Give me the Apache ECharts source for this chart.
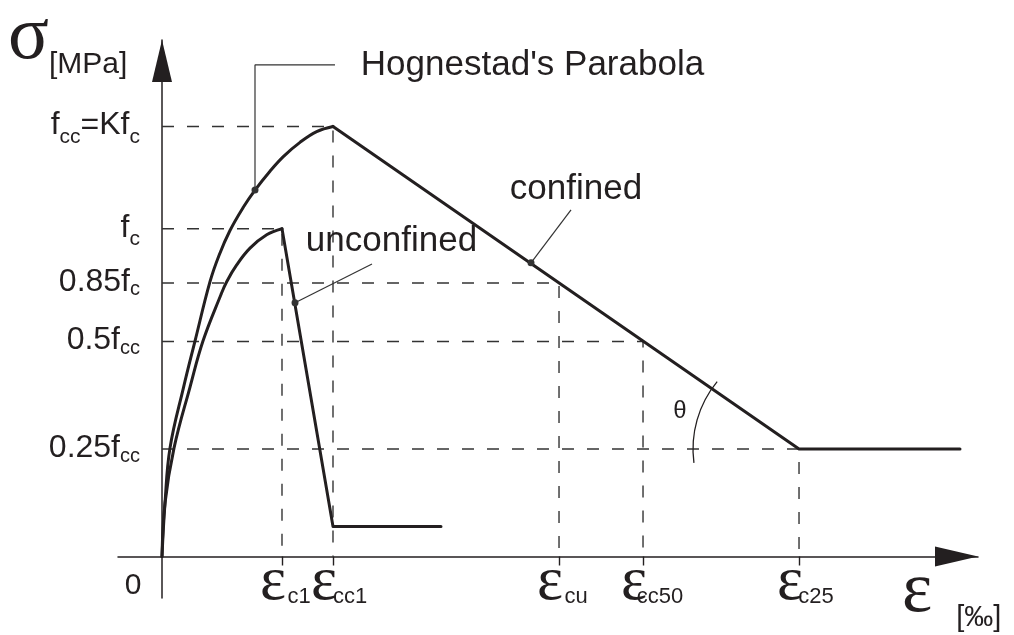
<!DOCTYPE html>
<html>
<head>
<meta charset="utf-8">
<script src="https://cdn.jsdelivr.net/npm/echarts@6.0.0/dist/echarts.min.js"></script>
<style>
html, body { margin: 0; padding: 0; background: #fff; }
#main { width: 1014px; height: 635px; }
</style>
</head>
<body>
<div id="main"></div>
<script>
// strain in schematic ‰ units, stress as a fraction of fcc

// confined curve: Hognestad parabola up to the peak, then the linear softening branch
const confinedRise = [[0, 0], [0.05, 0.124], [0.133, 0.252], [0.36, 0.394], [0.55, 0.501], [0.8, 0.639],
    [0.95, 0.7], [1.133, 0.758], [1.355, 0.812], [1.55, 0.852], [1.8, 0.896], [2.022, 0.93], [2.3, 0.963],
    [2.578, 0.988], [2.85, 1.0]];
const confinedFall = [[2.85, 1.0], [10.617, 0.25], [13.3, 0.25]];

// unconfined curve
const unconfinedRise = [[0, 0], [0.05, 0.124], [0.2, 0.252], [0.467, 0.394], [0.683, 0.501], [0.98, 0.608],
    [1.078, 0.639], [1.245, 0.678], [1.467, 0.717], [1.745, 0.748], [2.0, 0.762]];
const unconfinedFall = [[2.0, 0.762], [2.85, 0.07], [4.65, 0.07]];

// characteristic strains (x ticks) and their subscripts
const strainTicks = [2.0, 2.85, 6.617, 8.017, 10.617];
const strainSubs = ['c1', 'cc1', 'cu', 'cc50', 'c25'];

// stress levels (y ticks), the strain each dashed guide runs to, and the labels
const stressLevels = [1.0, 0.762, 0.636, 0.5, 0.25];
const guideStrains = [2.85, 2.0, 6.617, 8.017, 10.617];
const stressLabels = ['{m|f}{s|cc}{m|=Kf}{s|c}', '{m|f}{s|c}', '{m|0.85f}{t|c}', '{m|0.5f}{t|cc}', '{m|0.25f}{t|cc}'];

// leader lines (first point gets the dot)
const hognestadLeader = [[1.55, 0.852], [1.55, 1.143], [2.883, 1.143]];
const unconfinedLeader = [[2.217, 0.59], [3.5, 0.68]];
const confinedLeader = [[6.15, 0.683], [6.817, 0.806]];

// annotation texts and where they sit
const noteTexts = ["Hognestad's Parabola", 'unconfined', 'confined', 'θ'];
const notePos = [[6.175, 1.142], [3.825, 0.733], [6.9, 0.853], [8.633, 0.338]];

const ink = '#231f20';
const sans = '"Liberation Sans", Arial, sans-serif';
const serif = '"Liberation Serif", "Times New Roman", serif';

const chart = echarts.init(document.getElementById('main'));

function curve(name, data, smooth) {
    return {
        name: name,
        type: 'line',
        data: data,
        smooth: smooth ? 0.4 : false,
        symbol: 'none',
        silent: true,
        z: 5,
        lineStyle: { color: ink, width: 3, cap: 'round', join: 'round' }
    };
}

function leader(data) {
    return {
        type: 'line',
        data: data,
        symbol: 'circle',
        symbolSize: function (v, p) { return p.dataIndex === 0 ? 7 : 0; },
        itemStyle: { color: '#333', borderWidth: 0 },
        silent: true,
        z: 6,
        lineStyle: { color: '#333', width: 1.2 }
    };
}

const guides = stressLevels.map(function (lv, i) {
    return {
        type: 'line',
        data: [[0, lv], [guideStrains[i], lv], [guideStrains[i], 0]],
        symbol: 'none',
        silent: true,
        z: 2,
        lineStyle: { color: '#333', width: 1.4, type: [12, 13] }
    };
});

const option = {
    animation: false,
    backgroundColor: '#fff',
    title: [{
        text: '{g|σ}{u|[MPa]}',
        left: 8,
        top: 0,
        padding: 0,
        textStyle: {
            fontWeight: 'normal',
            rich: {
                g: { fontFamily: serif, fontWeight: 'normal', fontSize: 76, lineHeight: 44, verticalAlign: 'top', color: ink },
                u: { fontFamily: sans, fontWeight: 'normal', fontSize: 30, lineHeight: 30, verticalAlign: 'top', padding: [50, 0, 0, 0], color: ink }
            }
        }
    }, {
        text: '{g|ε}{u|[‰]}',
        left: 902,
        top: 556,
        padding: 0,
        textStyle: {
            fontWeight: 'normal',
            rich: {
                g: { fontFamily: serif, fontWeight: 'normal', fontSize: 72, lineHeight: 44, verticalAlign: 'top', color: ink },
                u: { fontFamily: sans, fontWeight: 'normal', fontSize: 29, lineHeight: 29, verticalAlign: 'top', padding: [47, 0, 0, 24], color: ink }
            }
        }
    }],
    grid: { left: 118, right: 36, top: 40, bottom: 37, outerBoundsMode: 'none' },
    xAxis: {
        type: 'value',
        min: -0.7333,
        max: 13.6,
        splitLine: { show: false },
        axisLine: {
            onZero: true,
            lineStyle: { color: ink, width: 1.5 },
            symbol: ['none', 'triangle'],
            symbolSize: [20, 43],
            symbolOffset: [0, -21.5]
        },
        axisTick: {
            show: true,
            customValues: strainTicks,
            length: 9,
            lineStyle: { color: ink, width: 1.4 }
        },
        axisLabel: {
            customValues: [0].concat(strainTicks),
            margin: -46,
            hideOverlap: false,
            formatter: function (v) {
                if (v === 0) return '{z|0}';
                return '{e|ε}{s|' + strainSubs[strainTicks.indexOf(v)] + '}';
            },
            rich: {
                z: { fontFamily: sans, fontSize: 30, lineHeight: 30, verticalAlign: 'top', padding: [19, 58, 0, 0], color: ink },
                e: { fontFamily: serif, fontSize: 62, lineHeight: 40, verticalAlign: 'top', color: ink },
                s: { fontFamily: sans, fontSize: 22, lineHeight: 22, verticalAlign: 'top', padding: [34, 0, 0, 8], width: 10, align: 'left', color: ink }
            }
        }
    },
    yAxis: {
        type: 'value',
        min: -0.0965,
        max: 1.201,
        splitLine: { show: false },
        axisLine: {
            onZero: true,
            lineStyle: { color: ink, width: 1.5 },
            symbol: ['none', 'triangle'],
            symbolSize: [20, 42],
            symbolOffset: [0, -21]
        },
        axisTick: { show: false },
        axisLabel: {
            customValues: stressLevels,
            margin: -22,
            hideOverlap: false,
            formatter: function (v) {
                return stressLabels[stressLevels.indexOf(v)];
            },
            rich: {
                m: { fontFamily: sans, fontSize: 32, lineHeight: 34, verticalAlign: 'top', color: ink },
                s: { fontFamily: sans, fontSize: 21, lineHeight: 20, verticalAlign: 'top', padding: [17, 0, 0, 0], color: ink },
                t: { fontFamily: sans, fontSize: 20, lineHeight: 20, verticalAlign: 'top', padding: [14, 0, 0, 0], color: ink }
            }
        }
    },
    series: guides.concat([
        curve('confined', confinedRise, true),
        curve('confined softening', confinedFall, false),
        curve('unconfined', unconfinedRise, true),
        curve('unconfined softening', unconfinedFall, false),
        leader(hognestadLeader),
        leader(unconfinedLeader),
        leader(confinedLeader),
        {
            type: 'custom',
            silent: true,
            z: 6,
            data: [confinedFall[1]],
            renderItem: function (params, api) {
                const c = api.coord([api.value(0), api.value(1)]);
                return {
                    type: 'arc',
                    shape: { cx: c[0], cy: c[1], r: 106, startAngle: 3.01, endAngle: 3.83 },
                    style: { stroke: ink, lineWidth: 1.3, fill: null }
                };
            }
        },
        {
            type: 'scatter',
            silent: true,
            symbolSize: 1,
            itemStyle: { color: '#fff', opacity: 0 },
            data: notePos.map(function (p, i) { return { value: p, name: noteTexts[i] }; }),
            label: {
                show: true,
                position: 'inside',
                formatter: '{b}',
                color: ink,
                opacity: 1,
                textBorderWidth: 0,
                fontFamily: sans,
                fontSize: 35
            },
            labelLayout: { hideOverlap: false },
            z: 7
        }
    ])
};

// theta is drawn smaller than the other notes
option.series[option.series.length - 1].data[3].label = { fontSize: 24 };

chart.setOption(option);
window.addEventListener('resize', function () { chart.resize(); });
</script>
</body>
</html>
